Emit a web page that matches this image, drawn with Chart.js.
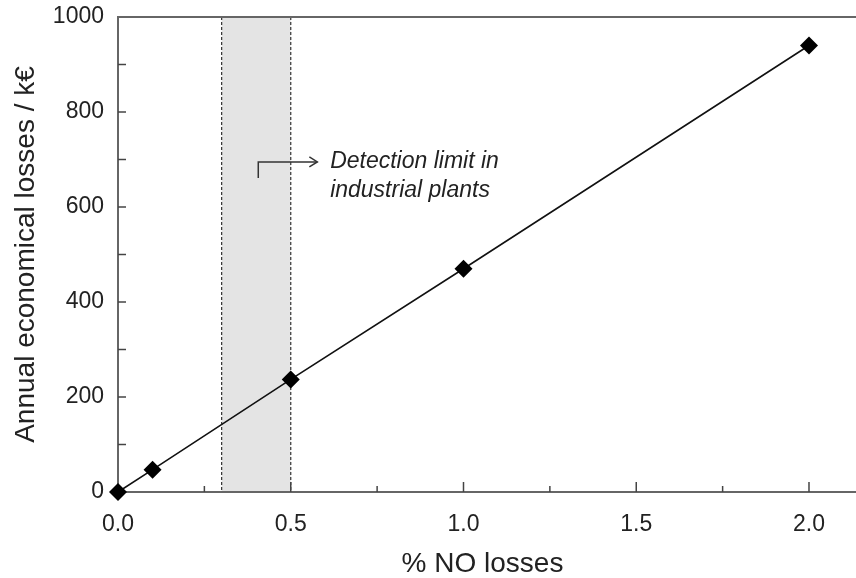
<!DOCTYPE html>
<html>
<head>
<meta charset="utf-8">
<script src="https://cdn.jsdelivr.net/npm/chart.js@4.4.0/dist/chart.umd.min.js"></script>
<style>
  html, body { margin: 0; padding: 0; background: #fff; overflow: hidden; }
  #wrap { width: 856px; height: 578px; }
</style>
</head>
<body>
<div id="wrap"><canvas id="grafic"></canvas></div>
<script>
// DADES
const perduesNO = [0, 0.1, 0.5, 1.0, 2.0];          // % NO losses
const costAnual = [0, 47, 237, 470, 940];           // k€
const ticksX = [0, 0.5, 1.0, 1.5, 2.0];
const ticksXmenors = [0.25, 0.75, 1.25, 1.75];
const ticksY = [0, 200, 400, 600, 800, 1000];
const ticksYmenors = [100, 300, 500, 700, 900];
const limitDeteccio = [0.3, 0.5];
const textNota = ["Detection limit in", "industrial plants"];

const FONT = "'Liberation Sans', Arial, Helvetica, sans-serif";
const GRIS_EIX = "#666";

// zona grisa (abans dels eixos)
const zonaDeteccio = {
  id: "zonaDeteccio",
  beforeDraw(chart) {
    const { ctx, chartArea: a, scales: { x } } = chart;
    if (!a) return;
    const x1 = x.getPixelForValue(limitDeteccio[0]);
    const x2 = x.getPixelForValue(limitDeteccio[1]);
    ctx.save();
    ctx.fillStyle = "#e4e4e4";
    ctx.fillRect(x1, a.top, x2 - x1, a.bottom - a.top);
    ctx.strokeStyle = "#333";
    ctx.lineWidth = 1.2;
    ctx.setLineDash([3, 2]);
    [x1, x2].forEach((px) => {
      ctx.beginPath();
      ctx.moveTo(px, a.top);
      ctx.lineTo(px, a.bottom);
      ctx.stroke();
    });
    ctx.restore();
  },
};

// marc superior, ticks cap endins i anotacio
const extres = {
  id: "extres",
  beforeDatasetsDraw(chart) {
    const { ctx, chartArea: a, scales: { x, y } } = chart;
    ctx.save();
    ctx.strokeStyle = GRIS_EIX;
    ctx.lineWidth = 2;
    ctx.beginPath();
    ctx.moveTo(a.left - 1, a.top);
    ctx.lineTo(chart.width, a.top);
    ctx.stroke();
    ctx.beginPath();
    ctx.moveTo(a.right, a.bottom);
    ctx.lineTo(chart.width, a.bottom);
    ctx.stroke();

    ctx.strokeStyle = "#444";
    ctx.lineWidth = 1.5;
    // ticks Y
    ticksY.concat(ticksYmenors).forEach((v) => {
      if (v === 0 || v === 1000) return;
      const py = y.getPixelForValue(v);
      ctx.beginPath();
      ctx.moveTo(a.left, py);
      ctx.lineTo(a.left + 8, py);
      ctx.stroke();
    });
    // ticks X
    ticksX.forEach((v) => {
      if (v === 0) return;
      const px = x.getPixelForValue(v);
      ctx.beginPath();
      ctx.moveTo(px, a.bottom);
      ctx.lineTo(px, a.bottom - 10);
      ctx.stroke();
    });
    ticksXmenors.forEach((v) => {
      const px = x.getPixelForValue(v);
      ctx.beginPath();
      ctx.moveTo(px, a.bottom);
      ctx.lineTo(px, a.bottom - 6);
      ctx.stroke();
    });

    // fletxa de la nota
    const bx = x.getPixelForValue(0.406);
    const byTop = y.getPixelForValue(695);
    const byBot = y.getPixelForValue(661);
    const ax = x.getPixelForValue(0.577);
    ctx.strokeStyle = "#333";
    ctx.lineWidth = 1.5;
    ctx.beginPath();
    ctx.moveTo(bx, byBot);
    ctx.lineTo(bx, byTop);
    ctx.lineTo(ax, byTop);
    ctx.stroke();
    ctx.beginPath();
    ctx.moveTo(ax - 8, byTop - 5);
    ctx.lineTo(ax, byTop);
    ctx.lineTo(ax - 8, byTop + 5);
    ctx.stroke();

    ctx.fillStyle = "#222";
    ctx.font = "italic 23px " + FONT;
    ctx.textAlign = "left";
    ctx.textBaseline = "alphabetic";
    const tx = x.getPixelForValue(0.614);
    ctx.fillText(textNota[0], tx, y.getPixelForValue(682));
    ctx.fillText(textNota[1], tx, y.getPixelForValue(621));
    ctx.restore();
  },
};

const punts = perduesNO.map((v, i) => ({ x: v, y: costAnual[i] }));

const config = {
  type: "line",
  data: {
    datasets: [
      {
        data: punts,
        borderColor: "#111",
        borderWidth: 1.6,
        backgroundColor: "#000",
        pointStyle: "rectRot",
        pointRadius: 9,
        pointBorderWidth: 0,
        pointBackgroundColor: "#000",
        tension: 0,
        clip: false,
      },
    ],
  },
  options: {
    responsive: true,
    maintainAspectRatio: false,
    animation: false,
    layout: { padding: { top: 17, right: 0, left: 0, bottom: 0 } },
    plugins: { legend: { display: false }, tooltip: { enabled: false } },
    scales: {
      x: {
        type: "linear",
        min: 0,
        max: 2.11,
        afterBuildTicks: (s) => { s.ticks = ticksX.map((v) => ({ value: v })); },
        afterFit: (s) => { s.height = 86; },
        grid: { display: false, drawTicks: false },
        border: { display: true, color: GRIS_EIX, width: 2 },
        ticks: {
          color: "#222",
          padding: 19,
          font: { family: FONT, size: 23 },
          callback: (v) => Number(v).toFixed(1),
        },
        title: {
          display: true,
          text: "% NO losses",
          color: "#222",
          font: { family: FONT, size: 28 },
          padding: { top: 0, bottom: -3 },
        },
      },
      y: {
        type: "linear",
        min: 0,
        max: 1000,
        afterBuildTicks: (s) => { s.ticks = ticksY.map((v) => ({ value: v })); },
        afterFit: (s) => {
          s.width = 118;
          s.paddingTop = 0;
          s.paddingBottom = 0;
        },
        grid: { display: false, drawTicks: false },
        border: { display: true, color: GRIS_EIX, width: 2 },
        ticks: {
          color: "#222",
          padding: 14,
          font: { family: FONT, size: 23 },
          callback: (v) => String(v),
        },
        title: {
          display: true,
          text: "Annual economical losses / k€",
          color: "#222",
          font: { family: FONT, size: 28 },
          padding: { top: 9, bottom: 0 },
        },
      },
    },
  },
  plugins: [zonaDeteccio, extres],
};

new Chart(document.getElementById("grafic"), config);
</script>
</body>
</html>
